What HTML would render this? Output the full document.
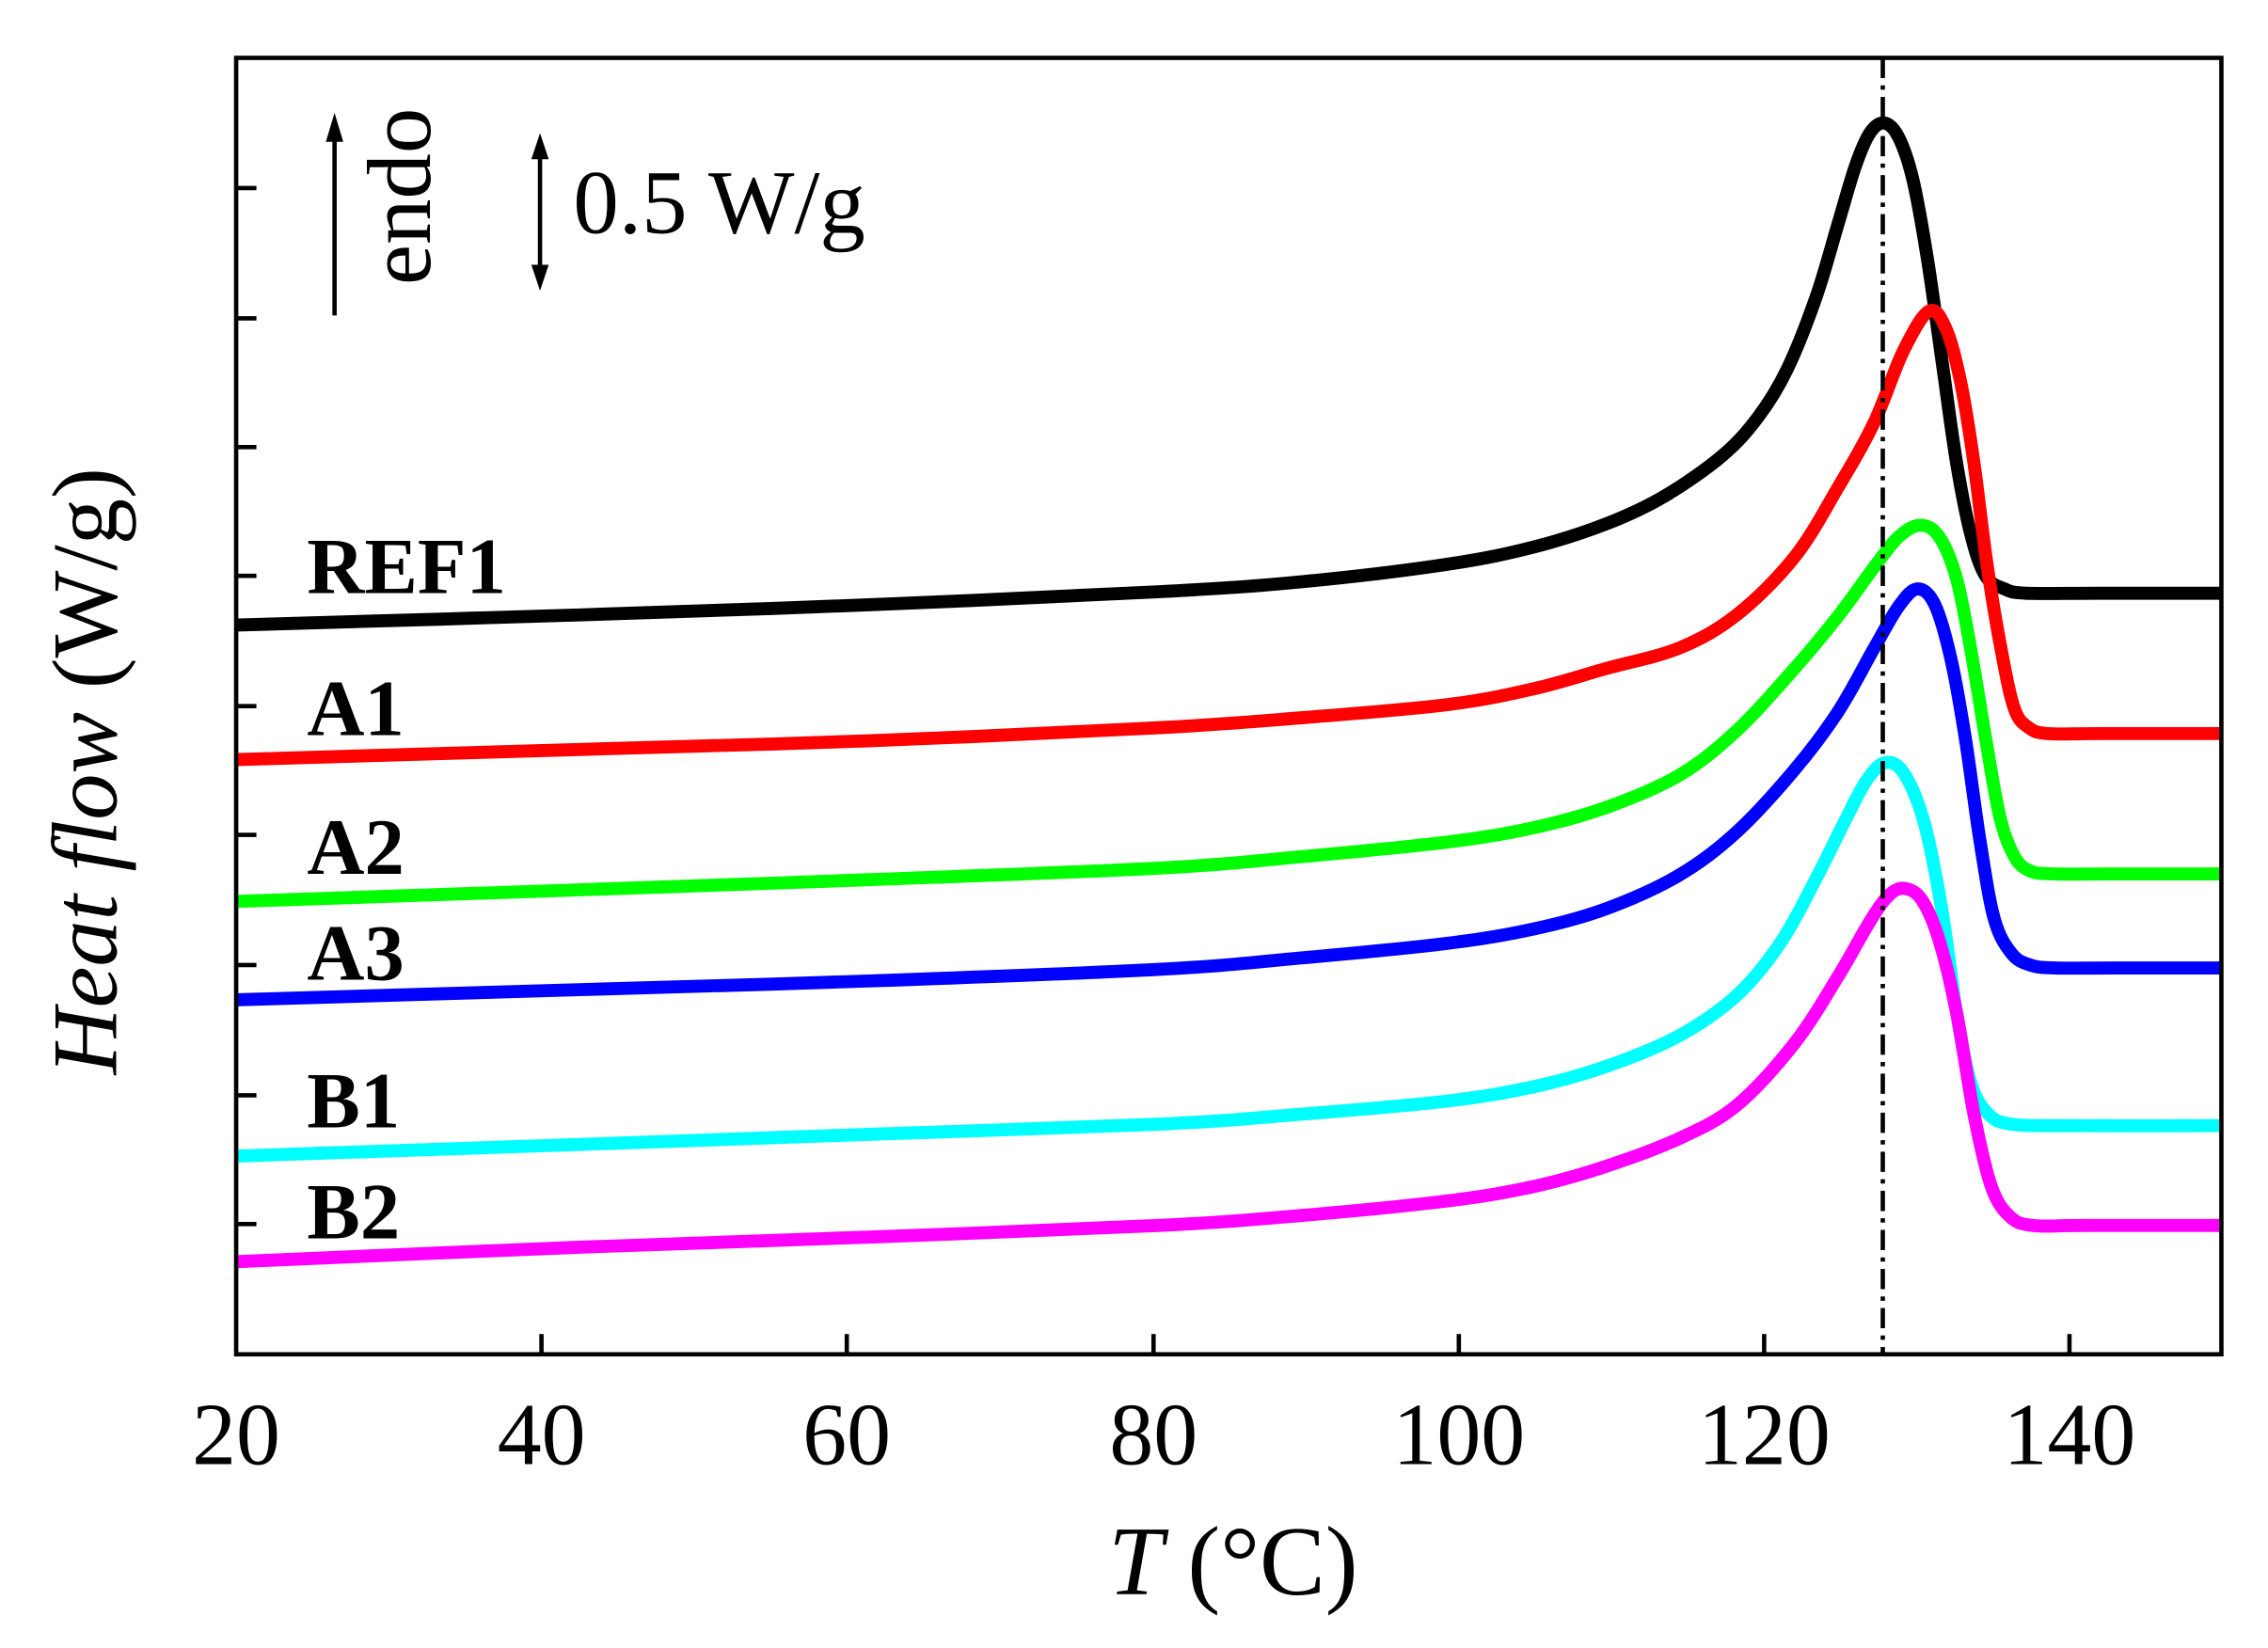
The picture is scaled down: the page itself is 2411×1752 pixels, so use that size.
<!DOCTYPE html>
<html><head><meta charset="utf-8"><style>html,body{margin:0;padding:0;background:#fff;}svg{display:block;}</style></head>
<body>
<svg id="s" width="2411" height="1752" viewBox="0 0 1567 1139" xmlns="http://www.w3.org/2000/svg" font-family="'Liberation Serif', 'Times New Roman', serif">
<rect width="1567" height="1139" fill="#fff"/>
<g id="curves" fill="none" stroke-width="9" stroke-linejoin="round" stroke-linecap="butt">
<polyline stroke="#000" points="163,432 400,425 600,418 800,409 900,402 1000,390 1060,378 1110,362 1150,343 1190,315 1215,288 1235,255 1255,205 1270,155 1282,115 1292,92 1302,85 1312,95 1322,125 1332,180 1342,250 1352,320 1362,370 1372,398 1385,407 1400,410 1450,410 1535,410"/>
<polyline stroke="#ff0000" points="163,525 400,518 600,512 800,503 900,496 1000,487 1060,476 1110,462 1160,448 1200,425 1240,385 1270,337 1295,292 1315,243 1333,215 1345,228 1355,265 1364,320 1373,390 1383,450 1392,490 1402,503 1415,507 1450,507 1535,507"/>
<polyline stroke="#00ff00" points="163,623 400,615 600,608 800,600 900,592 1000,582 1060,572 1110,558 1160,536 1200,505 1240,462 1270,426 1295,392 1312,371 1327,363 1340,371 1352,400 1362,450 1372,510 1382,565 1392,592 1403,602 1420,604 1460,604 1535,604"/>
<polyline stroke="#0000ff" points="163,691 400,684 600,678 800,670 900,662 1000,652 1060,642 1110,628 1160,605 1200,575 1240,532 1270,492 1295,448 1312,419 1325,407 1337,418 1348,455 1358,510 1368,580 1378,635 1390,659 1403,667 1420,669 1460,669 1535,669"/>
<polyline stroke="#00ffff" points="163,799 400,791 600,784 800,777 900,770 1000,761 1060,751 1110,737 1160,716 1200,688 1230,652 1255,607 1275,567 1290,539 1303,527 1316,535 1330,570 1342,630 1352,700 1362,749 1374,770 1390,777 1430,778 1535,778"/>
<polyline stroke="#ff00ff" points="163,872 400,862 600,855 800,847 900,840 1000,830 1060,820 1110,806 1160,787 1200,764 1240,721 1270,675 1292,637 1305,619 1316,614 1328,622 1340,650 1352,700 1364,770 1376,820 1389,841 1405,847 1440,847 1535,847"/>
</g>
<line x1="1301" y1="40" x2="1301" y2="936" stroke="#000" stroke-width="3" stroke-dasharray="14,5,3,5"/>
<rect x="163" y="40" width="1372" height="896" fill="none" stroke="#000" stroke-width="3"/>
<g stroke="#000" stroke-width="3">
<line x1="374" y1="936" x2="374" y2="922"/><line x1="585" y1="936" x2="585" y2="922"/><line x1="797" y1="936" x2="797" y2="922"/><line x1="1008" y1="936" x2="1008" y2="922"/><line x1="1219" y1="936" x2="1219" y2="922"/><line x1="1430" y1="936" x2="1430" y2="922"/>
<line x1="163" y1="130" x2="177" y2="130"/><line x1="163" y1="220" x2="177" y2="220"/><line x1="163" y1="309" x2="177" y2="309"/><line x1="163" y1="398" x2="177" y2="398"/><line x1="163" y1="488" x2="177" y2="488"/><line x1="163" y1="577" x2="177" y2="577"/><line x1="163" y1="667" x2="177" y2="667"/><line x1="163" y1="757" x2="177" y2="757"/><line x1="163" y1="846" x2="177" y2="846"/>
</g>
<g font-size="61" text-anchor="middle" fill="#000">
<text x="163" y="1012">20</text><text x="374" y="1012">40</text><text x="585" y="1012">60</text><text x="797" y="1012">80</text><text x="1008" y="1012">100</text><text x="1219" y="1012">120</text><text x="1430" y="1012">140</text>
</g>
<text x="852" y="1102" font-size="68" text-anchor="middle"><tspan font-style="italic">T</tspan> (°C)</text>
<text transform="translate(80,533) rotate(-90)" font-size="64" text-anchor="middle"><tspan font-style="italic">Heat flow</tspan> (W/g)</text>
<g font-size="55" font-weight="bold" fill="#000">
<text x="212" y="410">REF1</text><text x="212" y="508">A1</text><text x="212" y="604">A2</text><text x="212" y="677">A3</text><text x="212" y="779">B1</text><text x="212" y="856">B2</text>
</g>
<line x1="231" y1="218" x2="231" y2="92" stroke="#000" stroke-width="3"/>
<polygon points="231,78 225,98 237,98" fill="#000"/>
<text transform="translate(297,197) rotate(-90)" font-size="63">endo</text>
<line x1="373" y1="105" x2="373" y2="188" stroke="#000" stroke-width="3"/>
<polygon points="373,92 367,110 379,110" fill="#000"/>
<polygon points="373,201 367,183 379,183" fill="#000"/>
<text x="396" y="161" font-size="63">0.5 W/g</text>
</svg>
<script>
document.querySelectorAll('#curves polyline').forEach(function(pl){
 var p=pl.getAttribute('points').trim().split(/\s+/).map(function(s){return s.split(',').map(Number);});
 var d='M'+p[0][0]+','+p[0][1];
 for(var i=0;i<p.length-1;i++){
  var p0=p[i-1]||p[i],p1=p[i],p2=p[i+1],p3=p[i+2]||p2;
  var c1=[p1[0]+(p2[0]-p0[0])/6,p1[1]+(p2[1]-p0[1])/6];
  var c2=[p2[0]-(p3[0]-p1[0])/6,p2[1]-(p3[1]-p1[1])/6];
  d+=' C'+c1.join(',')+' '+c2.join(',')+' '+p2.join(',');
 }
 var path=document.createElementNS('http://www.w3.org/2000/svg','path');
 path.setAttribute('d',d);path.setAttribute('stroke',pl.getAttribute('stroke'));
 pl.parentNode.replaceChild(path,pl);
});
</script>
</body></html>
